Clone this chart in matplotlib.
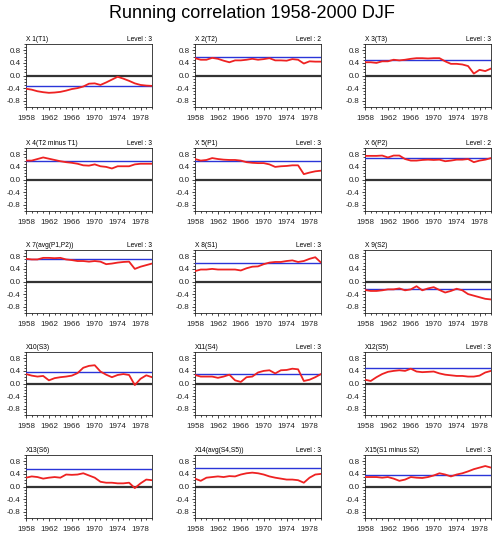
import matplotlib
matplotlib.use("Agg")
import matplotlib.pyplot as plt
from matplotlib.ticker import MultipleLocator
import numpy as np

plt.rcParams['font.family'] = ['Liberation Sans', 'DejaVu Sans']

years = list(range(1958, 1981))

titles = ["X 1(T1)", "X 2(T2)", "X 3(T3)", "X 4(T2 minus T1)", "X 5(P1)", "X 6(P2)",
          "X 7(avg(P1,P2))", "X 8(S1)", "X 9(S2)", "X10(S3)", "X11(S4)", "X12(S5)",
          "X13(S6)", "X14(avg(S4,S5))", "X15(S1 minus S2)"]
levels = ["Level : 3", "Level : 2", "Level : 3", "Level : 3", "Level : 3", "Level : 2",
          "Level : 3", "Level : 3", "", "", "Level : 3", "Level : 3",
          "", "Level : 3", "Level : 3"]
ref_values = [-0.32, 0.58, 0.50, 0.58, 0.58, 0.67, 0.70, 0.60, -0.25, 0.38, 0.30, 0.50,
              0.55, 0.58, 0.35]

x1 = [-0.42, -0.45, -0.50, -0.53, -0.55, -0.54, -0.52, -0.48, -0.43, -0.40, -0.35, -0.26,
      -0.25, -0.30, -0.22, -0.13, -0.04, -0.10, -0.17, -0.25, -0.30, -0.32, -0.33]
x2 = [0.55, 0.50, 0.50, 0.56, 0.53, 0.47, 0.42, 0.48, 0.48, 0.50, 0.53, 0.50, 0.52, 0.55,
      0.48, 0.48, 0.47, 0.52, 0.50, 0.38, 0.45, 0.44, 0.44]
x3 = [0.42, 0.42, 0.40, 0.45, 0.45, 0.50, 0.48, 0.50, 0.53, 0.55, 0.55, 0.54, 0.55, 0.55,
      0.45, 0.37, 0.37, 0.35, 0.30, 0.06, 0.18, 0.14, 0.22]
x4 = [0.60, 0.60, 0.65, 0.70, 0.66, 0.62, 0.58, 0.55, 0.53, 0.50, 0.45, 0.44, 0.48, 0.42,
      0.40, 0.35, 0.42, 0.42, 0.42, 0.48, 0.50, 0.50, 0.50]
x5 = [0.65, 0.60, 0.62, 0.68, 0.65, 0.63, 0.62, 0.62, 0.60, 0.55, 0.53, 0.52, 0.52, 0.48,
      0.40, 0.42, 0.43, 0.45, 0.45, 0.17, 0.22, 0.26, 0.28]
x6 = [0.75, 0.75, 0.75, 0.76, 0.70, 0.76, 0.76, 0.65, 0.60, 0.60, 0.62, 0.63, 0.62, 0.63,
      0.58, 0.60, 0.63, 0.63, 0.65, 0.55, 0.60, 0.63, 0.68]
x7 = [0.72, 0.70, 0.70, 0.75, 0.75, 0.74, 0.75, 0.70, 0.68, 0.65, 0.65, 0.63, 0.65, 0.63,
      0.55, 0.57, 0.60, 0.62, 0.63, 0.40, 0.47, 0.52, 0.57]
x8 = [0.33, 0.38, 0.38, 0.40, 0.38, 0.38, 0.38, 0.38, 0.35, 0.42, 0.47, 0.48, 0.55, 0.60,
      0.62, 0.62, 0.65, 0.67, 0.62, 0.65, 0.72, 0.77, 0.60]
x9 = [-0.27, -0.30, -0.30, -0.28, -0.25, -0.25, -0.22, -0.28, -0.25, -0.15, -0.28, -0.22,
      -0.18, -0.27, -0.35, -0.30, -0.23, -0.28, -0.40, -0.45, -0.50, -0.55, -0.57]
x10 = [0.30, 0.25, 0.22, 0.24, 0.10, 0.17, 0.20, 0.22, 0.25, 0.33, 0.50, 0.56, 0.58, 0.38,
       0.28, 0.20, 0.27, 0.30, 0.27, -0.05, 0.15, 0.26, 0.20]
x11 = [0.27, 0.22, 0.22, 0.22, 0.18, 0.22, 0.28, 0.10, 0.05, 0.20, 0.22, 0.35, 0.40, 0.42,
       0.32, 0.42, 0.43, 0.47, 0.45, 0.08, 0.12, 0.20, 0.30]
x12 = [0.12, 0.08, 0.20, 0.30, 0.37, 0.40, 0.42, 0.40, 0.47, 0.38, 0.36, 0.37, 0.38, 0.32,
       0.28, 0.26, 0.24, 0.24, 0.22, 0.22, 0.25, 0.35, 0.40]
x13 = [0.28, 0.32, 0.30, 0.25, 0.28, 0.30, 0.28, 0.38, 0.37, 0.38, 0.42, 0.35, 0.28, 0.15,
       0.12, 0.12, 0.10, 0.10, 0.12, -0.05, 0.10, 0.22, 0.20]
x14 = [0.25, 0.18, 0.28, 0.30, 0.32, 0.30, 0.33, 0.32, 0.38, 0.42, 0.44, 0.42, 0.38, 0.32,
       0.28, 0.25, 0.22, 0.22, 0.20, 0.12, 0.28, 0.38, 0.40]
x15 = [0.30, 0.30, 0.30, 0.28, 0.30, 0.25, 0.18, 0.22, 0.30, 0.28, 0.27, 0.30, 0.35, 0.42,
       0.38, 0.32, 0.38, 0.42, 0.48, 0.55, 0.60, 0.65, 0.60]

series = [x1, x2, x3, x4, x5, x6, x7, x8, x9, x10, x11, x12, x13, x14, x15]

W, H = 503, 538
fig = plt.figure(figsize=(W / 100, H / 100), dpi=100)

col_left = [26, 195, 365]
row_top = [44, 148, 250, 352, 455]
aw, ah = 126, 63

fig.text(0.5, 1 - 14 / H, "Running correlation 1958-2000 DJF", ha="center", va="center",
         fontsize=13)

for i in range(15):
    r, c = divmod(i, 3)
    left = col_left[c] / W
    bottom = 1 - (row_top[r] + ah) / H
    ax = fig.add_axes([left, bottom, aw / W, ah / H])
    ax.axhline(0.0, color="#333333", lw=1.6, zorder=2)
    ax.axhline(ref_values[i], color="#2a35d8", lw=1.0, zorder=3)
    ax.plot(years, series[i], color="#ee2222", lw=1.3, zorder=4)
    ax.set_xlim(1958, 1980)
    ax.set_ylim(-1.0, 1.0)
    ax.set_xticks([1958, 1962, 1966, 1970, 1974, 1978])
    ax.set_yticks([-0.8, -0.4, 0.0, 0.4, 0.8])
    ax.set_yticklabels(["-0.8", "-0.4", "0.0", "0.4", "0.8"])
    ax.xaxis.set_minor_locator(MultipleLocator(1))
    ax.yaxis.set_minor_locator(MultipleLocator(0.1))
    ax.tick_params(axis="both", which="major", labelsize=5.8, length=2.5, width=0.6,
                   direction="out", pad=1.5, colors="#222222")
    ax.tick_params(axis="both", which="minor", length=1.2, width=0.5, direction="out")
    ax.tick_params(axis="x", which="major", pad=3.0)
    for sp in ax.spines.values():
        sp.set_linewidth(0.6)
        sp.set_color("#222222")
    ax.text(0.0, 1.01, titles[i], transform=ax.transAxes, ha="left", va="bottom",
            fontsize=4.8)
    if levels[i]:
        ax.text(1.0, 1.01, levels[i], transform=ax.transAxes, ha="right", va="bottom",
                fontsize=4.8)

fig.savefig("out.png", dpi=100, facecolor="white")
